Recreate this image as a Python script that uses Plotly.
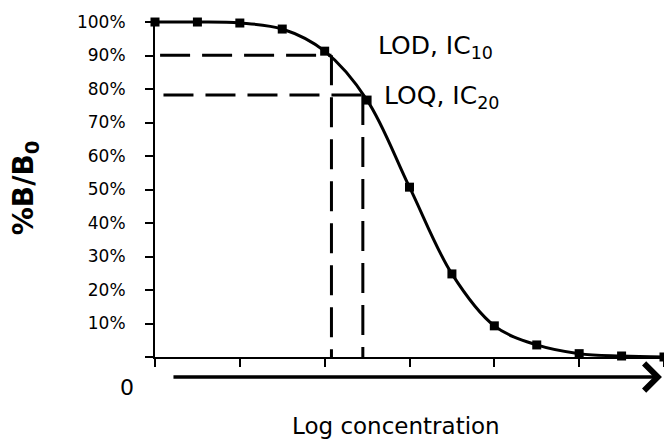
import plotly.graph_objects as go

# Data (x in tick units of log concentration, y in %B/B0)
log_conc = [0, 0.5, 1, 1.5, 2, 2.5, 3, 3.5, 4, 4.5, 5, 5.5, 6]
pct_b_b0 = [100, 100, 99.7, 97.9, 91.3, 76.7, 50.7, 24.8, 9.3, 3.6, 1.0, 0.3, 0]
y_ticks = [0, 10, 20, 30, 40, 50, 60, 70, 80, 90, 100]
y_tick_text = ["", "10%", "20%", "30%", "40%", "50%", "60%", "70%", "80%", "90%", "100%"]
x_ticks = [0, 1, 2, 3, 4, 5, 6]
lod = {"x": 2.08, "y": 90.1}
loq = {"x": 2.45, "y": 78.2}

FONT = "DejaVu Sans"

fig = go.Figure()
fig.add_trace(go.Scatter(
    x=log_conc, y=pct_b_b0, mode="lines+markers",
    line=dict(color="black", width=3, shape="spline", smoothing=1.0),
    marker=dict(symbol="square", size=9, color="black"),
    cliponaxis=False, showlegend=False, hoverinfo="skip",
))

dash = "30px,12px"
for pt, x0 in ((lod, 0.06), (loq, 0.1)):
    fig.add_shape(type="line", xref="x", yref="y", x0=x0, x1=pt["x"], y0=pt["y"], y1=pt["y"],
                  line=dict(color="black", width=3, dash=dash))
    fig.add_shape(type="line", xref="x", yref="y", x0=pt["x"], x1=pt["x"], y0=pt["y"], y1=0,
                  line=dict(color="black", width=3, dash=dash))

fig.add_annotation(xref="x", yref="y", x=2.61, y=92.6, xanchor="left", yanchor="middle",
                   text="LOD, IC<sub>10</sub>", showarrow=False,
                   font=dict(family=FONT, size=25, color="black"))
fig.add_annotation(xref="x", yref="y", x=2.68, y=77.6, xanchor="left", yanchor="middle",
                   text="LOQ, IC<sub>20</sub>", showarrow=False,
                   font=dict(family=FONT, size=25, color="black"))

# "0" origin label
fig.add_annotation(xref="paper", yref="paper", x=-0.055, y=-0.0914, xanchor="center", yanchor="middle",
                   text="0", showarrow=False, font=dict(family=FONT, size=22, color="black"))
# x title
fig.add_annotation(xref="paper", yref="paper", x=0.4735, y=-0.204, xanchor="center", yanchor="middle",
                   text="Log concentration", showarrow=False, font=dict(family=FONT, size=23, color="black"))
# y title
fig.add_annotation(xref="paper", yref="paper", x=-0.255, y=0.4985, xanchor="center", yanchor="middle",
                   text="<b>%B/B<sub>0</sub></b>", textangle=-90, showarrow=False,
                   font=dict(family=FONT, size=28, color="black"))
# arrow under x-axis
fig.add_annotation(xref="paper", yref="paper", x=0.996, y=-0.059, ax=-492, ay=0,
                   axref="pixel", ayref="pixel", text=" ", showarrow=True,
                   arrowhead=4, arrowsize=1.5, arrowwidth=3.5, arrowcolor="black")

fig.update_layout(
    width=664, height=439,
    margin=dict(l=155, r=0, t=18, b=82, autoexpand=False),
    paper_bgcolor="white", plot_bgcolor="white",
    font=dict(family=FONT, color="black"),
    xaxis=dict(range=[0, 6], tickvals=x_ticks, showticklabels=False, ticks="outside",
               ticklen=8, tickwidth=2, tickcolor="black", showline=True, linecolor="black",
               linewidth=2, showgrid=False, zeroline=False, fixedrange=True),
    yaxis=dict(range=[0, 101.2], tickvals=y_ticks, ticktext=y_tick_text, ticks="outside",
               ticklen=8, tickwidth=2, tickcolor="black", showline=True, linecolor="black",
               linewidth=2, showgrid=False, zeroline=False, ticklabelstandoff=16,
               tickfont=dict(family=FONT, size=17, color="black"), fixedrange=True),
)

fig.write_html("out.html")
